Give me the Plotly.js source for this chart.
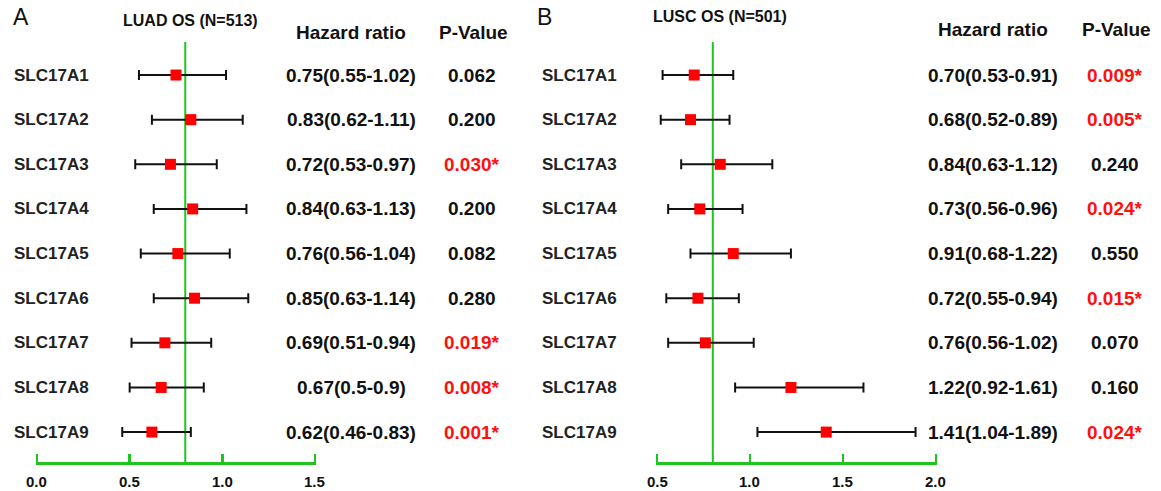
<!DOCTYPE html>
<html>
<head>
<meta charset="utf-8">
<script src="https://cdn.plot.ly/plotly-3.0.1.min.js"></script>
<style>html,body{margin:0;padding:0;background:#fff}#chart{width:1161px;height:491px}</style>
</head>
<body>
<div id="chart"></div>
<script>
const genes = ["SLC17A1","SLC17A2","SLC17A3","SLC17A4","SLC17A5","SLC17A6","SLC17A7","SLC17A8","SLC17A9"];

const luadHR   = [0.75,0.83,0.72,0.84,0.76,0.85,0.69,0.67,0.62];
const luadLow  = [0.55,0.62,0.53,0.63,0.56,0.63,0.51,0.5,0.46];
const luadHigh = [1.02,1.11,0.97,1.13,1.04,1.14,0.94,0.9,0.83];
const luadHRText = ["0.75(0.55-1.02)","0.83(0.62-1.11)","0.72(0.53-0.97)","0.84(0.63-1.13)","0.76(0.56-1.04)","0.85(0.63-1.14)","0.69(0.51-0.94)","0.67(0.5-0.9)","0.62(0.46-0.83)"];
const luadP    = ["0.062","0.200","0.030*","0.200","0.082","0.280","0.019*","0.008*","0.001*"];

const luscHR   = [0.70,0.68,0.84,0.73,0.91,0.72,0.76,1.22,1.41];
const luscLow  = [0.53,0.52,0.63,0.56,0.68,0.55,0.56,0.92,1.04];
const luscHigh = [0.91,0.89,1.12,0.96,1.22,0.94,1.02,1.61,1.89];
const luscHRText = ["0.70(0.53-0.91)","0.68(0.52-0.89)","0.84(0.63-1.12)","0.73(0.56-0.96)","0.91(0.68-1.22)","0.72(0.55-0.94)","0.76(0.56-1.02)","1.22(0.92-1.61)","1.41(1.04-1.89)"];
const luscP    = ["0.009*","0.005*","0.240","0.024*","0.550","0.015*","0.070","0.160","0.024*"];

const refLine = 0.8;
const luadTicks = [0.0,0.5,1.0,1.5];
const luscTicks = [0.5,1.0,1.5,2.0];

const FONT = "Arial, 'Liberation Sans', sans-serif";
const GREEN = "#1fc41f";
const W = 1161, H = 491, MT = 42, MB = 29;

function forestTrace(hr, lo, hi, xa, ya) {
  return {
    type: "scatter", mode: "markers",
    x: hr, y: genes, xaxis: xa, yaxis: ya,
    marker: {symbol: "square", size: 11, color: "#ff0000"},
    error_x: {
      type: "data", symmetric: false,
      array: hi.map((h,i)=>h-hr[i]),
      arrayminus: lo.map((l,i)=>hr[i]-l),
      color: "#111", thickness: 2, width: 5
    },
    hoverinfo: "x+y", showlegend: false, cliponaxis: false
  };
}

const data = [
  forestTrace(luadHR, luadLow, luadHigh, "x", "y"),
  forestTrace(luscHR, luscLow, luscHigh, "x2", "y2")
];

const PAD = 0.006;
function xAxis(domain, range, ticks) {
  return {
    domain: domain, range: [range[0]-PAD, range[1]+PAD], tickvals: ticks,
    showticklabels: false,
    showline: true, linecolor: GREEN, linewidth: 2.5,
    ticks: "inside", ticklen: 8, tickwidth: 2.5, tickcolor: GREEN,
    showgrid: false, zeroline: false, fixedrange: true
  };
}
function yAxis(anchor) {
  return {
    anchor: anchor, type: "category", categoryarray: genes,
    range: [8.67, -0.74], showticklabels: false, showline: false,
    showgrid: false, zeroline: false, ticks: "", fixedrange: true
  };
}

const annotations = [];
function txt(x, y, yref, text, size, color, anchor) {
  annotations.push({
    x: x, y: y, xref: "paper", yref: yref, text: text, showarrow: false,
    xanchor: anchor || "center", yanchor: "middle",
    font: {family: FONT, size: size, color: color || "#111", weight: "bold"}
  });
}
genes.forEach((g,i)=>{
  txt(12/W, g, "y", g, 17, "#222", "left");
  txt(351/W, g, "y", luadHRText[i], 19, "#111");
  txt(472/W, g, "y", luadP[i], 19, luadP[i].includes("*") ? "#ff1010" : "#111");
  txt(540/W, g, "y2", g, 17, "#222", "left");
  txt(993/W, g, "y2", luscHRText[i], 19, "#111");
  txt(1115/W, g, "y2", luscP[i], 19, luscP[i].includes("*") ? "#ff1010" : "#111");
});
function ptxt(x, ypx, text, size, bold, anchor) {
  annotations.push({
    x: x/W, y: (H - MB - ypx)/(H - MT - MB), xref: "paper", yref: "paper", text: text, showarrow: false,
    xanchor: anchor || "center", yanchor: "middle",
    font: {family: FONT, size: size, color: "#111", weight: bold ? "bold" : "normal"}
  });
}
ptxt(11, 17, "A", 23, false, "left");
ptxt(190, 21, "LUAD OS (N=513)", 16, true);
ptxt(351, 32, "Hazard ratio", 19, true);
ptxt(473, 32, "P-Value", 19, true);
ptxt(535, 17, "B", 23, false, "left");
ptxt(720, 17, "LUSC OS (N=501)", 16, true);
ptxt(993, 29, "Hazard ratio", 19, true);
ptxt(1116, 29, "P-Value", 19, true);

// tick labels placed at the axis tick values
const tickY = (H - MB - 481)/(H - MT - MB);
function tickLabels(ticks, xref) {
  ticks.forEach(t => annotations.push({
    x: t, y: tickY, xref: xref, yref: "paper", text: t.toFixed(1), showarrow: false,
    xanchor: "center", yanchor: "middle",
    font: {family: FONT, size: 15, color: "#111", weight: "bold"}
  }));
}
tickLabels(luadTicks, "x");
tickLabels(luscTicks, "x2");

const px = 185.5;
const layout = {
  width: W, height: H,
  font: {family: FONT},
  margin: {l: 0, r: 0, t: MT, b: MB},
  paper_bgcolor: "#fff", plot_bgcolor: "#fff",
  xaxis: xAxis([(37 - PAD*px)/W, (315 + PAD*px)/W], [0, 1.5], luadTicks),
  yaxis: yAxis("x"),
  xaxis2: Object.assign(xAxis([(657 - PAD*px)/W, (936 + PAD*px)/W], [0.5, 2.0], luscTicks), {anchor: "y2"}),
  yaxis2: yAxis("x2"),
  shapes: [
    {type: "line", xref: "x", yref: "paper", x0: refLine, x1: refLine, y0: 0, y1: 1, line: {color: GREEN, width: 2}, layer: "below"},
    {type: "line", xref: "x2", yref: "paper", x0: refLine, x1: refLine, y0: 0, y1: 1, line: {color: GREEN, width: 2}, layer: "below"}
  ],
  annotations: annotations,
  showlegend: false
};

Plotly.newPlot("chart", data, layout, {displayModeBar: false, staticPlot: true});
</script>
</body>
</html>
